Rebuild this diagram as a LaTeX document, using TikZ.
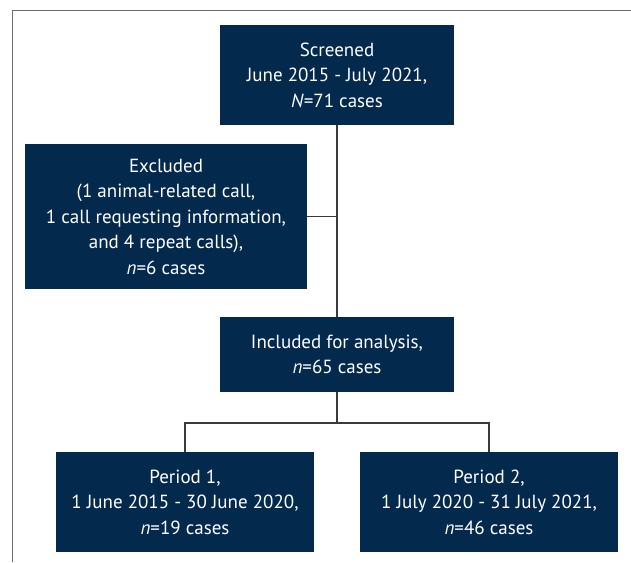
\documentclass[tikz,border=0pt]{standalone}
\usepackage{fontspec}
\setmainfont{PT Sans}
\definecolor{boxblue}{HTML}{03294D}
\definecolor{linegray}{HTML}{3A3A3A}
\definecolor{framegray}{HTML}{6E6E6E}
\begin{document}
\begin{tikzpicture}[x=1pt,y=-1pt,
  flowbox/.style={rectangle, fill=boxblue, text=white, align=center, inner sep=0pt,
    font=\fontsize{19}{25.5}\selectfont},
  conn/.style={draw=linegray, line width=1.4pt}]
\useasboundingbox (0,0) rectangle (631,562);
\draw[framegray, line width=1.3pt] (12.5,562) -- (12.5,10.5) -- (631,10.5);
\node[flowbox, minimum width=234pt, minimum height=100pt] (scr) at (337,75)
  {Screened\\June 2015 - July 2021,\\\textit{N}=71 cases};
\node[flowbox, minimum width=282pt, minimum height=145pt] (exc) at (166,216.5)
  {Excluded\\(1 animal-related call,\\1 call requesting information,\\and 4 repeat calls),\\\textit{n}=6 cases};
\node[flowbox, minimum width=234pt, minimum height=75pt] (inc) at (337,354.5)
  {Included for analysis,\\\textit{n}=65 cases};
\node[flowbox, minimum width=258pt, minimum height=100pt] (p1) at (185,502)
  {Period 1,\\1 June 2015 - 30 June 2020,\\\textit{n}=19 cases};
\node[flowbox, minimum width=258pt, minimum height=100pt] (p2) at (489,502)
  {Period 2,\\1 July 2020 - 31 July 2021,\\\textit{n}=46 cases};
\coordinate (ej) at (scr.south |- exc.east);
\coordinate (split) at (337,423);
\coordinate (l1) at (p1.north |- split);
\coordinate (l2) at (p2.north |- split);
\draw[conn] (scr.south) -- (inc.north);
\draw[conn] (exc.east) -- (ej);
\draw[conn] (inc.south) -- (split);
\draw[conn] (p1.north) -- (l1) -- (l2) -- (p2.north);
\end{tikzpicture}
\end{document}
